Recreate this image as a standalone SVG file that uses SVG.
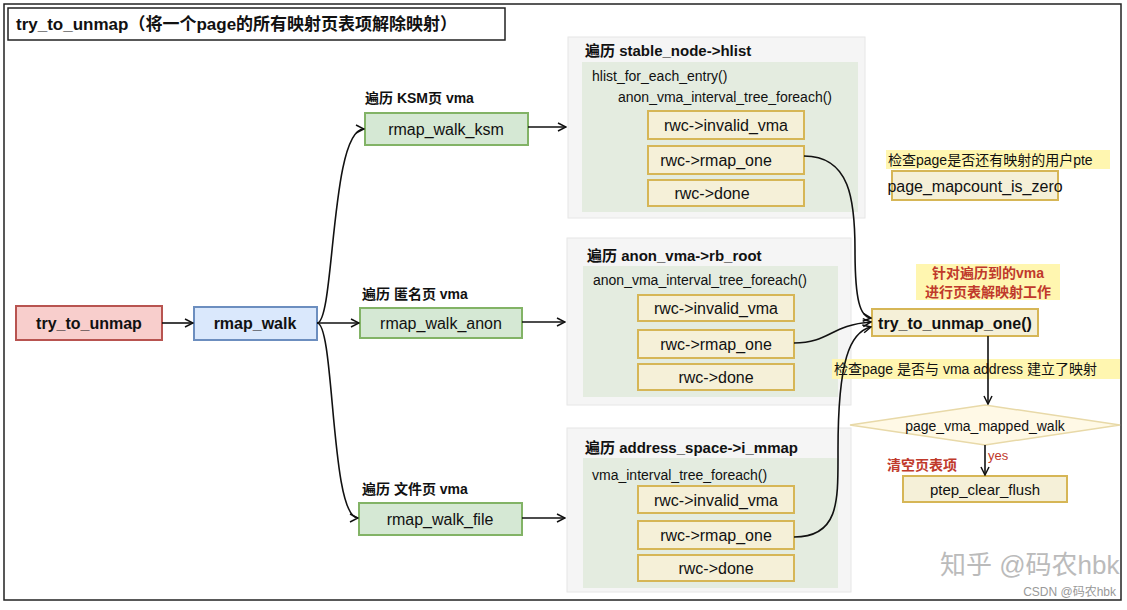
<svg xmlns="http://www.w3.org/2000/svg" width="1127" height="610" viewBox="0 0 1127 610">
<style>
text{font-family:"Liberation Sans","Noto Sans CJK SC",sans-serif;fill:#111}
.b{font-weight:bold}
.g{fill:#d5e8d4;stroke:#82b366;stroke-width:2}
.y{fill:#f5f0d8;stroke:#d6b656;stroke-width:2}
.po{fill:#f5f5f5;stroke:#e6e6e6}
.pi{fill:#e4ece0;stroke:none}
.hl{fill:#fff6b0}
.c{fill:none;stroke:#111;stroke-width:1.6;marker-end:url(#a)}
</style>
<defs>
<marker id="a" markerWidth="10" markerHeight="10" refX="9" refY="5" orient="auto" markerUnits="userSpaceOnUse"><path d="M1,1 L9,5 L1,9" fill="none" stroke="#111" stroke-width="1.5"/></marker>
</defs>
<rect width="1127" height="610" fill="#fff"/>
<rect x="4" y="4" width="1117" height="596" fill="none" stroke="#222" stroke-width="1.5"/>
<g id="title"><rect x="8" y="8" width="497" height="32" fill="#fff" stroke="#222" stroke-width="1.5"/><text x="16" y="30" font-size="17" class="b">try_to_unmap（将一个page的所有映射页表项解除映射）</text></g>
<g id="n_try"><rect x="16" y="306" width="146" height="34" fill="#f8cecc" stroke="#b85450" stroke-width="2"/><text x="89" y="329" font-size="16" class="b" text-anchor="middle">try_to_unmap</text></g>
<g id="n_rmap"><rect x="194" y="307" width="123" height="33" fill="#dae8fc" stroke="#6c8ebf" stroke-width="2"/><text x="255" y="329" font-size="16" class="b" text-anchor="middle">rmap_walk</text></g>
<g id="n_ksm"><text x="365" y="103" font-size="14" class="b">遍历 KSM页 vma</text><rect class="g" x="365" y="113" width="163" height="32"/><text x="446" y="135" font-size="16" text-anchor="middle">rmap_walk_ksm</text></g>
<g id="n_anon"><text x="362" y="299" font-size="14" class="b">遍历 匿名页 vma</text><rect class="g" x="360" y="308" width="162" height="30"/><text x="441" y="329" font-size="16" text-anchor="middle">rmap_walk_anon</text></g>
<g id="n_file"><text x="362" y="494" font-size="14" class="b">遍历 文件页 vma</text><rect class="g" x="359" y="503" width="163" height="32"/><text x="440" y="525" font-size="16" text-anchor="middle">rmap_walk_file</text></g>
<g id="p1"><rect class="po" x="568" y="37" width="297" height="181"/><rect class="pi" x="582" y="62" width="276" height="150"/><text x="585" y="56" font-size="15" class="b">遍历 stable_node-&gt;hlist</text><text x="592" y="81" font-size="14">hlist_for_each_entry()</text><text x="618" y="102" font-size="14">anon_vma_interval_tree_foreach()</text>
<rect class="y" x="648" y="111" width="156" height="28"/><text x="726" y="131" font-size="16" text-anchor="middle">rwc-&gt;invalid_vma</text>
<rect class="y" x="648" y="146" width="156" height="28"/><text x="716" y="166" font-size="16" text-anchor="middle">rwc-&gt;rmap_one</text>
<rect class="y" x="648" y="180" width="156" height="26"/><text x="712" y="199" font-size="16" text-anchor="middle">rwc-&gt;done</text></g>
<g id="p2"><rect class="po" x="567" y="238" width="284" height="167"/><rect class="pi" x="583" y="266" width="255" height="131"/><text x="587" y="261" font-size="15" class="b">遍历 anon_vma-&gt;rb_root</text><text x="593" y="285" font-size="14">anon_vma_interval_tree_foreach()</text>
<rect class="y" x="638" y="295" width="156" height="26"/><text x="716" y="314" font-size="16" text-anchor="middle">rwc-&gt;invalid_vma</text>
<rect class="y" x="638" y="330" width="156" height="28"/><text x="716" y="350" font-size="16" text-anchor="middle">rwc-&gt;rmap_one</text>
<rect class="y" x="638" y="364" width="156" height="26"/><text x="716" y="383" font-size="16" text-anchor="middle">rwc-&gt;done</text></g>
<g id="p3"><rect class="po" x="567" y="428" width="284" height="164"/><rect class="pi" x="583" y="458" width="255" height="130"/><text x="585" y="453" font-size="15" class="b">遍历 address_space-&gt;i_mmap</text><text x="592" y="480" font-size="14">vma_interval_tree_foreach()</text>
<rect class="y" x="638" y="486" width="156" height="27"/><text x="716" y="506" font-size="16" text-anchor="middle">rwc-&gt;invalid_vma</text>
<rect class="y" x="638" y="521" width="156" height="28"/><text x="716" y="541" font-size="16" text-anchor="middle">rwc-&gt;rmap_one</text>
<rect class="y" x="638" y="555" width="156" height="26"/><text x="716" y="574" font-size="16" text-anchor="middle">rwc-&gt;done</text></g>
<g id="n_mapcount"><rect class="hl" x="886" y="150" width="224" height="19"/><text x="888" y="165" font-size="14">检查page是否还有映射的用户pte</text><rect class="y" x="892" y="171" width="166" height="29"/><text x="975" y="192" font-size="16" text-anchor="middle">page_mapcount_is_zero</text></g>
<g id="n_one"><rect class="hl" x="916" y="264" width="144" height="36"/><text x="988" y="278" font-size="14" class="b" text-anchor="middle" style="fill:#c0392b">针对遍历到的vma</text><text x="988" y="297" font-size="14" class="b" text-anchor="middle" style="fill:#c0392b">进行页表解映射工作</text>
<rect class="y" x="872" y="309" width="166" height="27"/><text x="955" y="329" font-size="16" class="b" text-anchor="middle">try_to_unmap_one()</text></g>
<g id="n_walk"><rect class="hl" x="832" y="359" width="288" height="20"/><text x="834" y="374" font-size="14">检查page 是否与 vma address 建立了映射</text>
<polygon points="850,425 985,405 1120,425 985,445" fill="#fff9e6" stroke="#e8d9a8" stroke-width="1.5"/><text x="985" y="431" font-size="14" text-anchor="middle">page_vma_mapped_walk</text></g>
<g id="n_flush"><text x="887" y="470" font-size="14" class="b" style="fill:#c0392b">清空页表项</text><rect class="y" x="903" y="476" width="164" height="26"/><text x="985" y="495" font-size="15" text-anchor="middle">ptep_clear_flush</text></g>
<g id="connectors">
<path class="c" d="M162,323 H193"/>
<path class="c" d="M317,323 C335,323 330,129 364,129"/>
<path class="c" d="M317,323 H359"/>
<path class="c" d="M317,323 C335,323 330,518 358,518"/>
<path class="c" d="M528,127 H566"/>
<path class="c" d="M522,322 H565"/>
<path class="c" d="M522,518 H565"/>
<path class="c" d="M804,156 C850,156 855,200 855,250 C855,300 860,317 871,318"/>
<path class="c" d="M794,343 C830,343 830,325 871,322"/>
<path class="c" d="M794,537 C840,537 838,500 838,450 C838,360 850,332 871,327"/>
<path class="c" d="M988,336 V404"/>
<path class="c" d="M985,445 V475"/>
<text x="988" y="460" font-size="13" style="fill:#c0392b">yes</text>
</g>
<text x="940" y="574" font-size="26" style="fill:#bbb">知乎 @码农hbk</text>
<text x="1116" y="596" font-size="12" text-anchor="end" style="fill:#999">CSDN @码农hbk</text>
</svg>
